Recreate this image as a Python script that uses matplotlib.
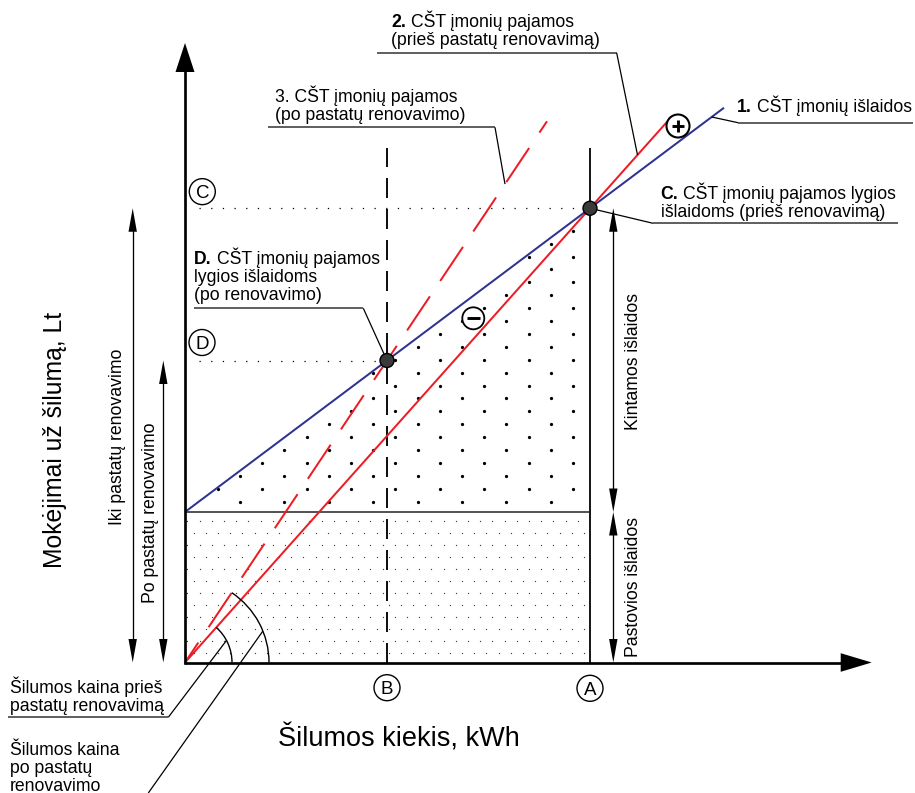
import numpy as np
import matplotlib
matplotlib.use('Agg')
import matplotlib.pyplot as plt
from matplotlib.patches import Polygon, Circle, Arc

plt.rcParams['font.family'] = ['Liberation Sans', 'DejaVu Sans']
plt.rcParams['lines.scale_dashes'] = False
plt.rcParams['lines.solid_capstyle'] = 'butt'
plt.rcParams['lines.dash_capstyle'] = 'butt'

# ---------------- data (diagram units) ----------------
point_names = ['A', 'B']                 # heat quantity before / after renovation
heat_quantity = [405.0, 202.0]
fixed_cost = 150.5                       # "Pastovios išlaidos"
variable_rate = 0.75                     # slope of the cost line
curve_names = ['cost', 'revenue_before', 'revenue_after']
curve_end_q = [539.0, 487.0, 362.0]      # where each drawn line stops
axis_len = [686.7, 619.5]                # x axis, y axis length
guide_top = 514.5                        # top of vertical lines at A and B
price_arc_radius = [47.0, 84.0]          # before / after renovation

lbl_1 = [("1.", "CŠT įmonių išlaidos")]
lbl_2 = [("2.", "CŠT įmonių pajamos"), "(prieš pastatų renovavimą)"]
lbl_3 = ["3. CŠT įmonių pajamos", "(po pastatų renovavimo)"]
lbl_C = [("C.", "CŠT įmonių pajamos lygios"), "išlaidoms (prieš renovavimą)"]
lbl_D = [("D.", "CŠT įmonių pajamos"), "lygios išlaidoms", "(po renovavimo)"]
lbl_price_before = ["Šilumos kaina prieš", "pastatų renovavimą"]
lbl_price_after = ["Šilumos kaina", "po pastatų", "renovavimo"]
x_label = "Šilumos kiekis, kWh"
y_label = "Mokėjimai už šilumą, Lt"

# ---------------- derived values ----------------
qA, qB = heat_quantity
def cost(q):
    return fixed_cost + variable_rate * q
cA, cB = cost(qA), cost(qB)
price_before = cA / qA
price_after = cB / qB

RED = '#ed1c24'
BLUE = '#2e3192'
PT = 0.72  # points per pixel at dpi 100

fig = plt.figure(figsize=(9.15, 7.93), dpi=100)
ax = fig.add_axes([0, 0, 1, 1])
ax.set_xlim(-185, 730)
ax.set_ylim(-130.5, 662.5)
ax.axis('off')
renderer = fig.canvas.get_renderer()


def head(tip, direction, length, half, z=6):
    tx, ty = tip
    dx, dy = direction
    bx, by = tx - dx * length, ty - dy * length
    px, py = -dy, dx
    poly = Polygon([(tx, ty), (bx + px * half, by + py * half), (bx - px * half, by - py * half)],
                   closed=True, fc='black', ec='none', zorder=z)
    ax.add_patch(poly)


def double_arrow(x, y0, y1, lw=1.3 * PT, length=23.5, half=4.2):
    ax.plot([x, x], [y0 + length * 0.8, y1 - length * 0.8], color='black', lw=lw, zorder=5)
    head((x, y1), (0, 1), length, half)
    head((x, y0), (0, -1), length, half)


# ---------------- fill patterns ----------------
fx, fy = [], []
for k, yy in enumerate(np.arange(9.5, fixed_cost - 3, 12.0)):
    off = 8.5 if k % 2 == 0 else 2.3
    for xx in np.arange(off, qA - 3, 12.2):
        fx.append(xx); fy.append(yy)
ax.scatter(fx, fy, s=0.9, c='#444444', linewidths=0, zorder=1)

bx_, by_ = [], []
for k, yy in enumerate(np.arange(fixed_cost + 10.3, cA, 12.9)):
    off = 277.0 if k % 2 == 0 else 299.2
    for xx in np.arange(off - 44.4 * 8, qA, 44.4):
        if 3 < xx < qA - 3 and yy < cost(xx) - 1.0:
            bx_.append(xx); by_.append(yy)
ax.scatter(bx_, by_, s=5.5, c='black', linewidths=0, zorder=1)

# ---------------- reference lines ----------------
ax.plot([14, qA], [cA, cA], color='black', lw=0.9, linestyle=(0, (0.9, 7.5)), zorder=2)
ax.plot([14, qB], [cB, cB], color='black', lw=0.9, linestyle=(0, (0.9, 7.5)), zorder=2)
ax.plot([0, qA], [fixed_cost, fixed_cost], color='#555555', lw=2.0 * PT, zorder=3)
ax.plot([qA, qA], [0, guide_top], color='#1a1a1a', lw=2.0 * PT, zorder=3)
ax.plot([qB, qB], [0, guide_top], color='#111111', lw=2.0 * PT,
        linestyle=(0, (20 * PT, 11 * PT)), zorder=3)

# ---------------- curves ----------------
q_cost, q_rb, q_ra = curve_end_q
ax.plot([0, q_cost], [cost(0), cost(q_cost)], color=BLUE, lw=2.0 * PT, zorder=4)
ax.plot([0, q_rb], [0, price_before * q_rb], color=RED, lw=2.0 * PT, zorder=4)
ax.plot([0, q_ra], [0, price_after * q_ra], color=RED, lw=2.0 * PT,
        linestyle=(17 * PT, (41 * PT, 18.5 * PT)), zorder=4)

# ---------------- axes ----------------
ax.plot([-1.3, axis_len[0] - 30], [0, 0], color='black', lw=2.7 * PT, zorder=5)
ax.plot([0, 0], [-1.3, axis_len[1] - 28], color='black', lw=2.7 * PT, zorder=5)
head((axis_len[0], 0), (1, 0), 31, 9.3)
head((0, axis_len[1]), (0, 1), 29, 9.5)

# ---------------- price angle arcs ----------------
ang_b = np.degrees(np.arctan(price_before))
ang_a = np.degrees(np.arctan(price_after))
r_in, r_out = price_arc_radius
ax.add_patch(Arc((0, 0), 2 * r_in, 2 * r_in, theta1=0, theta2=ang_b, color='black', lw=1.0, zorder=5))
ax.add_patch(Arc((0, 0), 2 * r_out, 2 * r_out, theta1=0, theta2=ang_a, color='black', lw=1.0, zorder=5))

# ---------------- dimension arrows ----------------
double_arrow(-52.3, 0, cA)
double_arrow(-21.7, 0, cB)
double_arrow(428.3, fixed_cost, cA)
double_arrow(428.3, 0, fixed_cost)

FS = 12.7
ax.text(-67, 226, "Iki pastatų renovavimo", rotation=90, ha='center', va='center', fontsize=FS)
ax.text(-34.5, 150, "Po pastatų renovavimo", rotation=90, ha='center', va='center', fontsize=FS)
ax.text(448, 301.5, "Kintamos išlaidos", rotation=90, ha='center', va='center', fontsize=FS)
ax.text(448, 75.5, "Pastovios išlaidos", rotation=90, ha='center', va='center', fontsize=FS)

ax.text(-130, 222.5, y_label, rotation=90, ha='center', va='center', fontsize=17.8)
ax.text(214, -84, x_label, ha='center', va='baseline', fontsize=19.5)

# ---------------- circled letters ----------------
def circled(x, y, s):
    ax.add_patch(Circle((x, y), 13, fill=False, ec='black', lw=1.0, zorder=6))
    ax.text(x, y, s, ha='center', va='center_baseline', fontsize=13.5, zorder=7)

circled(qA, -25.8, point_names[0])
circled(qB, -25.2, point_names[1])
circled(17.3, cA + 16.6, 'C')
circled(17.0, cB + 18.0, 'D')

ax.add_patch(Circle((493, 536.5), 11.5, fc='white', ec='black', lw=1.5, zorder=6))
ax.plot([487, 499], [536.5, 536.5], color='black', lw=2.1, zorder=7)
ax.plot([493, 493], [530.5, 542.5], color='black', lw=2.1, zorder=7)
ax.add_patch(Circle((288.3, 344.2), 11, fc='white', ec='black', lw=1.3, zorder=6))
ax.plot([281.5, 295.1], [344.2, 344.2], color='black', lw=2.1, zorder=7)

ax.add_patch(Circle((qA, cA), 7, fc='#3a3a3a', ec='black', lw=1.0, zorder=8))
ax.add_patch(Circle((qB, cB), 7, fc='#3a3a3a', ec='black', lw=1.0, zorder=8))

# ---------------- annotations ----------------
SPACE = 0.278 * FS / PT  # width of a space in pixels


def lines(x, y0, items, step=18.2, size=FS):
    for i, s in enumerate(items):
        y = y0 - i * step
        if isinstance(s, tuple):
            bold, rest = s
            t = ax.text(x, y, bold, ha='left', va='baseline', fontsize=size,
                        fontweight='bold', zorder=7)
            w = t.get_window_extent(renderer=renderer).width
            ax.text(x + w + SPACE, y, rest, ha='left', va='baseline', fontsize=size, zorder=7)
        else:
            ax.text(x, y, s, ha='left', va='baseline', fontsize=size, zorder=7)


def leader(pts):
    xs, ys = zip(*pts)
    ax.plot(xs[:2], ys[:2], color='#333333', lw=1.1, zorder=6)
    ax.plot(xs[1:], ys[1:], color='black', lw=0.9, zorder=6)


lines(552, 550.5, lbl_1)
leader([(727.7, 539.8), (553, 539.8), (526.7, cost(526.7))])

lines(206, 635.5, lbl_2)
leader([(191.7, 609.5), (431.7, 609.5), (452.5, price_before * 452.5)])

lines(90, 560.8, lbl_3)
leader([(83, 535.2), (310, 535.2), (320, price_after * 320)])

lines(475.7, 463.5, lbl_C, step=17.7)
leader([(713, 439.2), (468, 439.2), (qA, cA)])

lines(9.3, 398.5, lbl_D, step=18.0)
leader([(9, 354.2), (178.3, 354.2), (qB, cB)])

lines(-175, -30.8, lbl_price_before, step=17.7)
a1 = np.radians(28)
leader([(-177, -54.8), (-16.7, -54.8), (r_in * np.cos(a1), r_in * np.sin(a1))])

lines(-175, -92.5, lbl_price_after, step=17.9)
a2 = np.radians(22)
ax.plot([-36.7, r_out * np.cos(a2)], [-130.5, r_out * np.sin(a2)], color='black', lw=0.9, zorder=6)

fig.savefig('out.png', dpi=100)
